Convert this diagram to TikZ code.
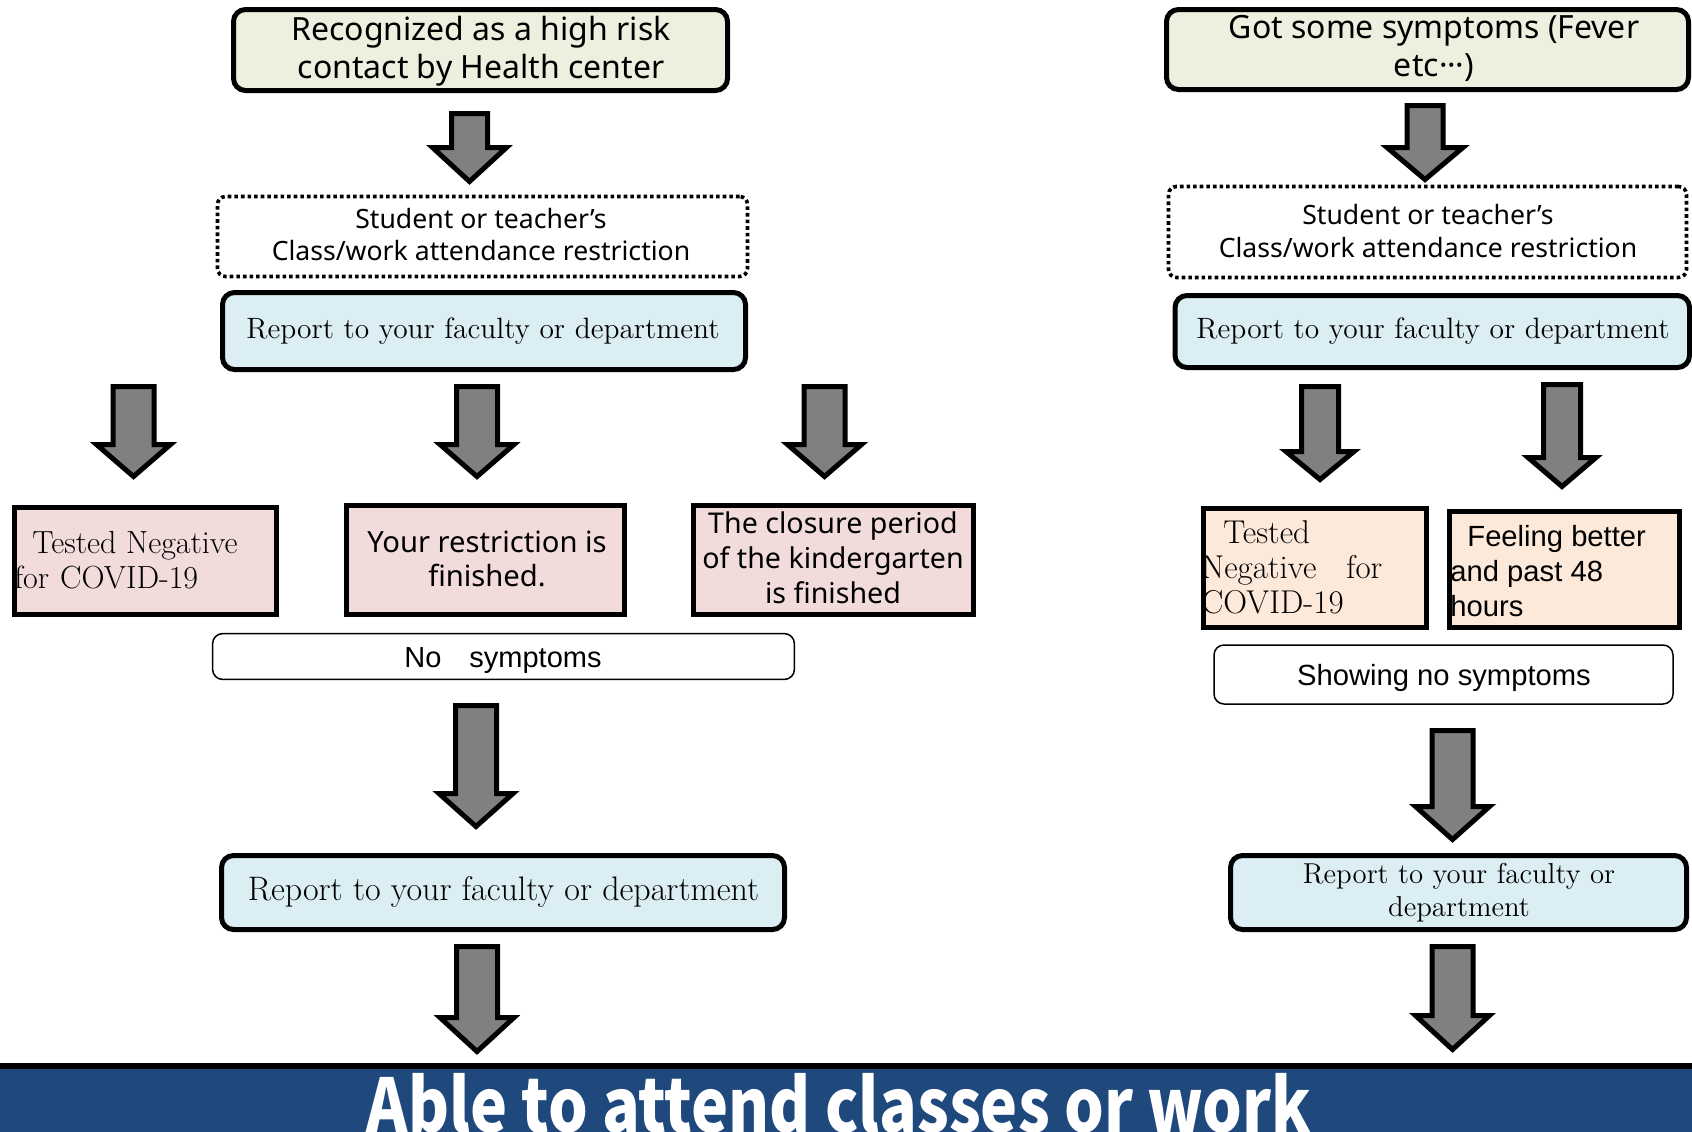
\documentclass[tikz,border=0pt]{standalone}
\usepackage{fontspec}
\usetikzlibrary{fit}
\newfontfamily\nsans{Noto Sans}
\newfontfamily\lsans{Liberation Sans}
\newfontfamily\cjk{Noto Sans CJK JP}
\newcommand{\setfs}[2]{\fontsize{#1}{#2}\selectfont}
\definecolor{greenfill}{HTML}{EBF1DE}
\definecolor{bluefill}{HTML}{DBEEF4}
\definecolor{pinkfill}{HTML}{F2DCDB}
\definecolor{peachfill}{HTML}{FDE9D9}
\definecolor{bannerblue}{HTML}{1F497D}
\definecolor{arrowgray}{HTML}{808080}
\tikzset{
  framebox/.style={draw=black, line width=2.5pt, inner sep=0pt, outer sep=0pt},
  greenbox/.style={framebox, fill=greenfill, rounded corners=6pt},
  bluebox/.style={framebox, fill=bluefill, rounded corners=6pt},
  pinkbox/.style={framebox, fill=pinkfill},
  peachbox/.style={framebox, fill=peachfill},
  dotbox/.style={draw=black, line width=1.8pt, dash pattern=on 1.8pt off 1.5pt, rounded corners=4pt, inner sep=0pt},
  plainbox/.style={draw=black, line width=0.75pt, rounded corners=5pt, inner sep=0pt, fill=white},
  blockarrow/.style={draw=black, fill=arrowgray, line width=2.5pt},
  txt/.style={inner sep=0pt, align=center},
}
% block arrow: x, outer top, outer head start, outer tip, shaft half, head half
\newcommand{\barr}[6]{%
  \draw[blockarrow] ({#1-#5},{#2+2.5}) -- ({#1+#5},{#2+2.5}) -- ({#1+#5},{#3+2.5})
    -- ({#1+#6},{#3+2.5}) -- (#1,{#4-3.5}) -- ({#1-#6},{#3+2.5}) -- ({#1-#5},{#3+2.5}) -- cycle;}
\begin{document}
\begin{tikzpicture}[x=0.5pt,y=-0.5pt]
\fill[white] (0,0) rectangle (1692,1131);
\useasboundingbox (0,0) rectangle (1692,1131);

% ---------------- left column ----------------
\node[greenbox, fit={(233.5,9.5)(727.5,90.5)}] (g1) {};
\node[txt, font=\nsans\setfs{16pt}{19pt}] (g1t) at (481,51.5) {Recognized as a high risk\\contact by Health center};

\barr{469.5}{111}{145}{185}{18}{37}

\node[dotbox, fit={(217.5,196.5)(747.5,276.5)}] (d1) {};
\node[txt, font=\nsans\setfs{13.3pt}{16pt}] (d1t) at (481,235) {Student or teacher’s\\Class/work attendance restriction};

\node[bluebox, fit={(222.5,292.5)(745.5,369.5)}] (b1) {};
\node[txt, anchor=base, font=\setfs{14.7pt}{17pt}] (b1t) at (483,338) {Report to your faculty or department};

\barr{133.5}{384}{442}{480}{20.5}{37}
\barr{477}{384}{442}{480}{20.5}{37}
\barr{824.5}{384}{442}{480}{20.5}{37}

\node[pinkbox, fit={(14,507.5)(276.5,614.5)}] (p1) {};
\node[inner sep=0pt, align=left, anchor=west, font=\setfs{16pt}{17.5pt}] (p1t) at (14,560) {\hspace{9pt}Tested Negative\\for\hspace{5.5pt}COVID-19};

\node[pinkbox, fit={(346.5,505.5)(624.5,614.5)}] (p2) {};
\node[txt, font=\nsans\setfs{14.6pt}{17pt}] (p2t) at (487,558.5) {Your restriction is\\finished.};

\node[pinkbox, fit={(693.5,505.5)(973.5,614.5)}] (p3) {};
\node[txt, font=\nsans\setfs{14.3pt}{17.5pt}] (p3t) at (833,558) {The closure period\\of the kindergarten\\is finished};

\node[plainbox, fit={(212.6,633.6)(794.4,679.4)}] (n1) {};
\node[txt, anchor=base, font=\lsans\setfs{14.5pt}{17pt}] (n1t) at (503,667) {No\hspace{14pt}symptoms};

\barr{476}{703}{791}{830}{20.5}{37}

\node[bluebox, fit={(221.5,855.5)(784.5,929.5)}] (b3) {};
\node[txt, anchor=base, font=\setfs{17pt}{19pt}] (b3t) at (503.5,900) {Report to your faculty or department};

\barr{477}{944}{1015}{1055}{20.5}{37}

% ---------------- right column ----------------
\node[greenbox, fit={(1166.5,9.5)(1688.5,89.5)}] (g2) {};
\node[txt, font=\nsans\setfs{16pt}{19pt}] (g2t) at (1434,48) {Got some symptoms (Fever\\etc\kern0.5pt·\kern-0.3pt·\kern-0.3pt·)};

\barr{1425}{103}{145}{183}{18}{38}

\node[dotbox, fit={(1168.5,186.5)(1686.5,277.5)}] (d2) {};
\node[txt, font=\nsans\setfs{13.3pt}{16.5pt}] (d2t) at (1428,231) {Student or teacher’s\\Class/work attendance restriction};

\node[bluebox, fit={(1175,295.5)(1689.5,367.5)}] (b2) {};
\node[txt, anchor=base, font=\setfs{14.7pt}{17pt}] (b2t) at (1433,338) {Report to your faculty or department};

\barr{1320}{384}{449}{483}{18.5}{34}
\barr{1562}{382}{455}{490}{18.5}{34}

\node[peachbox, fit={(1203.5,508.5)(1426.5,627.5)}] (q1) {};
\node[inner sep=0pt, align=left, anchor=west, font=\setfs{16.5pt}{17.5pt}] (q1t) at (1201,567) {\hspace{11pt}Tested\\Negative\hspace{15pt}for\\COVID-19};

\node[peachbox, fit={(1449.5,511.5)(1679.5,627.5)}] (q2) {};
\node[inner sep=0pt, align=left, anchor=west, font=\lsans\setfs{14.6pt}{17.5pt}] (q2t) at (1450,571) {\hspace{8.5pt}Feeling better\\and past 48\\hours};

\node[plainbox, fit={(1214,645)(1673,704)}] (n2) {};
\node[txt, anchor=base, font=\lsans\setfs{14.6pt}{17pt}] (n2t) at (1444,685) {Showing no symptoms};

\barr{1452.5}{728}{804}{843}{20.5}{37}

\node[bluebox, fit={(1230.5,855.5)(1686.5,929.5)}] (b4) {};
\node[txt, font=\setfs{14.4pt}{16.5pt}] (b4t) at (1459,893) {Report to your faculty or\\department};

\barr{1452.5}{944}{1013}{1053}{20.5}{37}

% ---------------- banner ----------------
\node[fill=bannerblue, inner sep=0pt, outer sep=0pt, fit={(0,1066)(1692,1140)}] (ban) {};
\draw[line width=2.6pt, black] (ban.north west) -- (ban.north east);
\node[anchor=base, inner sep=0pt, text=white, font=\cjk\bfseries\setfs{37pt}{40pt}] (bant) at (839,1132) {\scalebox{0.844}[1]{Able to attend classes or work}};
\end{tikzpicture}
\end{document}
